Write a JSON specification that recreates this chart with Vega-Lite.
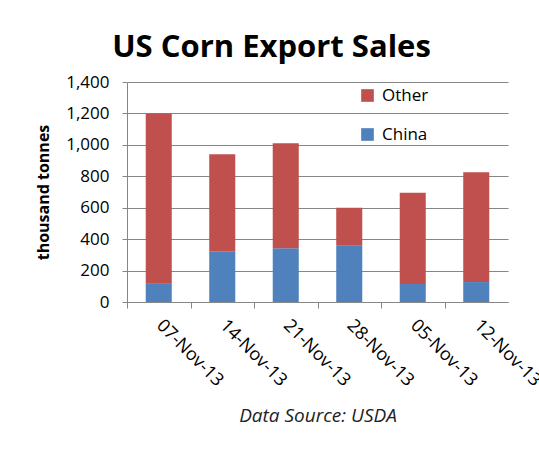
{
  "$schema": "https://vega.github.io/schema/vega-lite/v6.json",
  "width": 381,
  "height": 220,
  "autosize": {"type": "none"},
  "padding": {"left": 127, "top": 82, "right": 31, "bottom": 157},
  "background": "white",
  "title": {
    "text": "US Corn Export Sales",
    "font": "Open Sans",
    "fontSize": 31,
    "fontWeight": "bold",
    "color": "#000000",
    "anchor": "middle",
    "dx": -46,
    "offset": 9
  },
  "data": {
    "values": [
      {"week": "07-Nov-13", "series": "China", "value": 120},
      {"week": "07-Nov-13", "series": "Other", "value": 1080},
      {"week": "14-Nov-13", "series": "China", "value": 323},
      {"week": "14-Nov-13", "series": "Other", "value": 617},
      {"week": "21-Nov-13", "series": "China", "value": 342},
      {"week": "21-Nov-13", "series": "Other", "value": 668},
      {"week": "28-Nov-13", "series": "China", "value": 358},
      {"week": "28-Nov-13", "series": "Other", "value": 242},
      {"week": "05-Nov-13", "series": "China", "value": 115},
      {"week": "05-Nov-13", "series": "Other", "value": 581},
      {"week": "12-Nov-13", "series": "China", "value": 127},
      {"week": "12-Nov-13", "series": "Other", "value": 698}
    ]
  },
  "mark": {"type": "bar"},
  "encoding": {
    "x": {
      "field": "week",
      "type": "nominal",
      "sort": null,
      "scale": {"paddingInner": 0.59, "paddingOuter": 0.295},
      "axis": {
        "title": "Data Source:  USDA",
        "titleFont": "Open Sans",
        "titleFontStyle": "italic",
        "titleFontWeight": "normal",
        "titleFontSize": 19,
        "titleColor": "#222222",
        "titlePadding": 17,
        "labelFont": "Open Sans",
        "labelFontSize": 18,
        "labelColor": "#000000",
        "labelAngle": 45,
        "labelAlign": "left",
        "labelBaseline": "top",
        "labelPadding": 8,
        "labelOffset": 25,
        "bandPosition": 0,
        "tickOffset": -18.7,
        "ticks": true,
        "tickSize": 6,
        "tickColor": "#868686",
        "domainColor": "#868686",
        "grid": false
      }
    },
    "y": {
      "field": "value",
      "type": "quantitative",
      "stack": "zero",
      "scale": {"domain": [0, 1400]},
      "axis": {
        "values": [0, 200, 400, 600, 800, 1000, 1200, 1400],
        "format": ",d",
        "title": "thousand tonnes",
        "titleFont": "Open Sans",
        "titleFontSize": 16,
        "titleFontWeight": "bold",
        "titleColor": "#000000",
        "titlePadding": 14,
        "labelFont": "Open Sans",
        "labelFontSize": 17,
        "labelColor": "#000000",
        "labelPadding": 13,
        "tickSize": 5,
        "tickColor": "#868686",
        "domainColor": "#868686",
        "gridColor": "#868686",
        "grid": true
      }
    },
    "color": {
      "field": "series",
      "type": "nominal",
      "scale": {"domain": ["Other", "China"], "range": ["#C0504D", "#4F81BD"]},
      "legend": {
        "title": null,
        "orient": "none",
        "legendX": 232,
        "legendY": 5,
        "padding": 0,
        "symbolType": "square",
        "symbolSize": 160,
        "symbolStrokeWidth": 0,
        "labelFont": "Open Sans",
        "labelFontSize": 17,
        "labelColor": "#000000",
        "labelOffset": 6,
        "rowPadding": 21
      }
    },
    "order": {"field": "series", "sort": "ascending"}
  },
  "config": {
    "view": {"stroke": null},
    "font": "Open Sans"
  }
}
